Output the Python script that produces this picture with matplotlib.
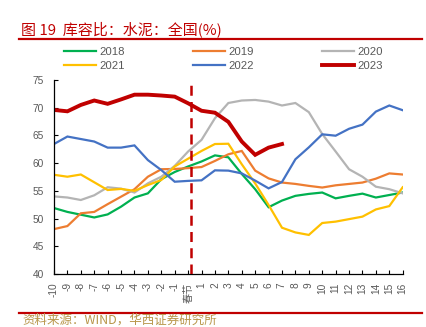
#!/usr/bin/env python3
"""Cement inventory-to-capacity ratio around Spring Festival, 2018-2023."""

import matplotlib
matplotlib.use('Agg')
import matplotlib.pyplot as plt

# x categories: 10 weeks before the festival, festival week, 16 weeks after
tick_labels = [str(i) for i in range(-10, 0)] + ['春节'] + [str(i) for i in range(1, 17)]

years = ['2018', '2019', '2020', '2021', '2022', '2023']

v2018 = [51.9, 51.2, 50.7, 50.2, 50.75, 52.15, 53.8, 54.55, 57.1, 58.4, 59.4,
         60.3, 61.4, 61.05, 58.05, 55.3, 52.05, 53.25, 54.1, 54.45, 54.7,
         53.65, 54.1, 54.5, 53.8, 54.25, 54.7]
v2019 = [48.1, 48.65, 50.95, 51.2, 52.6, 53.95, 55.3, 57.55, 58.9, 58.95, 59.1,
         59.3, 60.4, 61.6, 62.2, 58.65, 57.25, 56.5, 56.25, 55.9, 55.6,
         56.0, 56.25, 56.5, 57.2, 58.15, 57.95]
v2020 = [54.0, 53.8, 53.35, 54.2, 55.65, 55.4, 54.7, 56.35, 57.55, 59.5, 62.1,
         64.2, 68.1, 70.85, 71.3, 71.4, 71.1, 70.4, 70.85, 69.2, 65.25,
         62.1, 58.9, 57.55, 55.75, 55.3, 54.55]
v2021 = [57.9, 57.55, 57.95, 56.55, 55.15, 55.35, 55.0, 56.05, 56.95, 59.4, 60.8,
         62.2, 63.45, 63.5, 59.8, 56.35, 52.45, 48.35, 47.5, 47.05, 49.2,
         49.45, 49.9, 50.35, 51.65, 52.25, 55.65]
v2022 = [63.45, 64.8, 64.35, 63.9, 62.8, 62.8, 63.2, 60.55, 58.75, 56.65, 56.8,
         56.9, 58.7, 58.65, 58.15, 56.85, 55.45, 56.6, 60.7, 62.85, 65.2,
         64.95, 66.2, 66.95, 69.3, 70.4, 69.55]
# 2023 only runs to week 7 after the festival
v2023 = [69.6, 69.35, 70.5, 71.3, 70.7, 71.5, 72.35, 72.35, 72.2, 72.0, 70.8,
         69.45, 69.1, 67.45, 63.9, 61.5, 62.8, 63.45]

series = [v2018, v2019, v2020, v2021, v2022, v2023]
colors = ['#00b050', '#ed7d31', '#b4b4b4', '#ffc000', '#4472c4', '#c00000']
widths = [1.6, 1.6, 1.6, 1.6, 1.6, 2.8]

RED = '#c00000'
GRAY = '#595959'
FONT = ['Liberation Sans', 'Noto Sans CJK SC']
CJK = ['Noto Sans CJK SC', 'DejaVu Sans']

plt.rcParams['font.family'] = FONT

fig = plt.figure(figsize=(4.27, 3.27), dpi=100)
ax = fig.add_axes([54 / 427, 1 - 274 / 327, 348.7 / 427, 194 / 327])

lines = []
for name, vals, c, w in zip(years, series, colors, widths):
    ln, = ax.plot(range(len(vals)), vals, color=c, lw=w, label=name,
                  solid_joinstyle='miter')
    lines.append(ln)

# festival marker
ax.axvline(10.2, color=RED, lw=1.8, ls=(0, (4, 2.5)), zorder=5)

ax.set_xlim(0, len(tick_labels) - 1)
ax.set_ylim(40, 75)
ax.set_yticks(range(40, 76, 5))
ax.set_xticks(range(len(tick_labels)))
ax.set_xticklabels(tick_labels, rotation=90, fontsize=7.3, color=GRAY,
                   va='top', family=FONT)
ax.tick_params(direction='in', length=3, width=0.8, color='black')
ax.tick_params(axis='x', pad=6)
ax.tick_params(axis='y', labelsize=7.3, labelcolor=GRAY, pad=7.5)
for s in ['top', 'right']:
    ax.spines[s].set_visible(False)
for s in ['left', 'bottom']:
    ax.spines[s].set_color('black')
    ax.spines[s].set_linewidth(0.9)

# legend fills row by row in the reference: reorder for column-major ncol
order = [0, 3, 1, 4, 2, 5]
fig.legend(handles=[lines[i] for i in order], ncol=3, loc='upper left',
           bbox_to_anchor=(64 / 427, 1 - 47 / 327),
           frameon=False, fontsize=8.2, handlelength=2.8, handletextpad=0.3,
           columnspacing=6.0, labelspacing=0.37, borderpad=0, borderaxespad=0,
           labelcolor=GRAY)

# title and source framing
fig.text(21 / 427, 1 - 29 / 327, '图 19  库容比：水泥：全国(%)', color=RED,
         fontsize=10.8, family=CJK, va='center', ha='left')
fig.add_artist(plt.Line2D([19 / 427, 422 / 427], [1 - 39.3 / 327] * 2,
                          color=RED, lw=1.6))
fig.add_artist(plt.Line2D([19 / 427, 422 / 427], [1 - 312.5 / 327] * 2,
                          color=RED, lw=1.6))
fig.text(22 / 427, 1 - 327 / 327, '资料来源：WIND，华西证券研究所', color='#b8964a',
         fontsize=9, family=CJK, va='bottom', ha='left')

fig.savefig('out.png', dpi=100)
